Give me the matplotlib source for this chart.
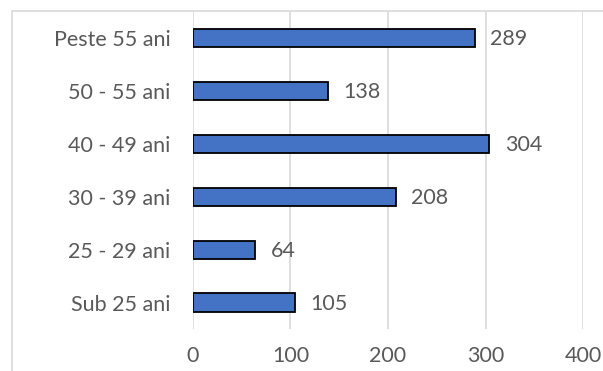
import matplotlib
matplotlib.use("Agg")
import matplotlib.pyplot as plt
from matplotlib.patches import Rectangle

# age groups, bottom to top as drawn
groups = ["Sub 25 ani", "25 - 29 ani", "30 - 39 ani", "40 - 49 ani", "50 - 55 ani", "Peste 55 ani"]
counts = [105, 64, 208, 304, 138, 289]
xticks = [0, 100, 200, 300, 400]

plt.rcParams['font.family'] = ['Lato', 'DejaVu Sans']
txt = '#595959'
grid = '#D9D9D9'

fig = plt.figure(figsize=(6.03, 3.71), dpi=100)
ax = fig.add_axes([0.320, 0.1132, 0.647, 0.857])

# chart area border (light gray, cropped at right/bottom)
fig.patches.append(Rectangle((12/603, -0.1), 1.2, 1 - 11/371 + 0.1,
                             transform=fig.transFigure, fill=False,
                             edgecolor=grid, linewidth=1.2))

ypos = list(range(len(groups)))
ax.barh(ypos, counts, height=0.34, color='#4472C4', edgecolor='black', linewidth=1.3, zorder=3)
for y, v in zip(ypos, counts):
    ax.annotate(str(v), (v, y), xytext=(11, -1), textcoords='offset points',
                va='center', ha='left', fontsize=15.5, color=txt)

ax.set_xlim(0, 400)
ax.set_ylim(-0.5, len(groups) - 0.5)
ax.set_xticks(xticks)
ax.set_yticks(ypos)
ax.set_yticklabels(groups)
ax.tick_params(axis='both', length=0, labelsize=15.5, labelcolor=txt)
ax.tick_params(axis='y', pad=16)
ax.tick_params(axis='x', pad=12)
ax.grid(axis='x', color=grid, linewidth=1.2, zorder=0)
for s in ax.spines.values():
    s.set_visible(False)

fig.savefig('out.png', dpi=100)
